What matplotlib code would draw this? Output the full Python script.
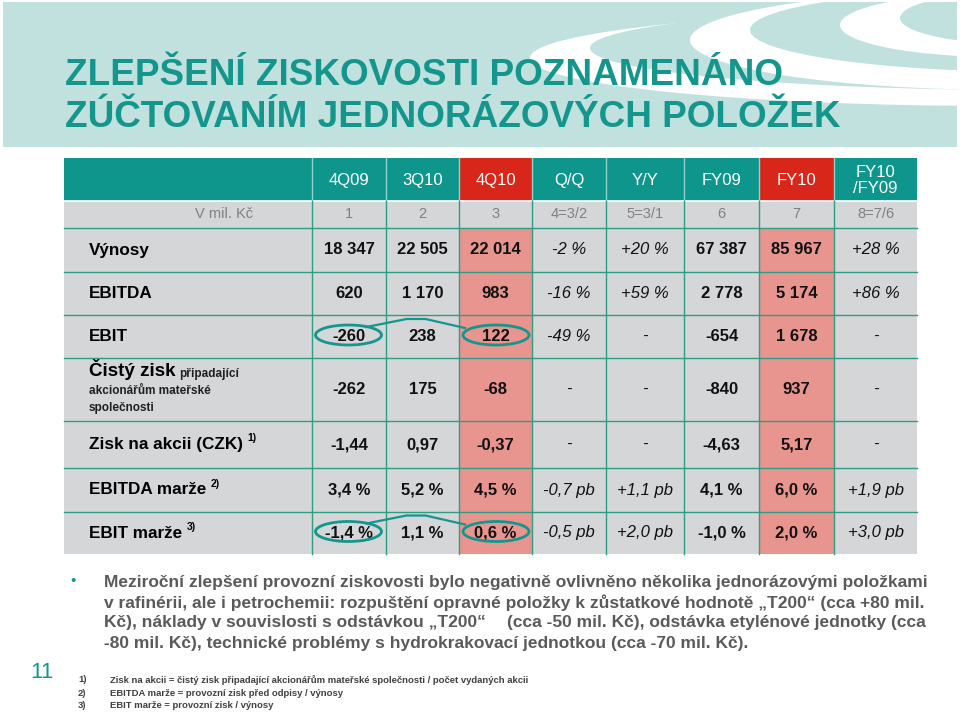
import matplotlib
matplotlib.use('Agg')
import matplotlib.pyplot as plt
from matplotlib.patches import Rectangle, Ellipse

plt.rcParams['font.family'] = ['Liberation Sans', 'DejaVu Sans']

# ---- content ----
title_lines = ['ZLEPŠENÍ ZISKOVOSTI POZNAMENÁNO', 'ZÚČTOVANÍM JEDNORÁZOVÝCH POLOŽEK']
columns = ['4Q09', '3Q10', '4Q10', 'Q/Q', 'Y/Y', 'FY09', 'FY10', 'FY10\n/FY09']
column_refs = ['1', '2', '3', '4=3/2', '5=3/1', '6', '7', '8=7/6']
unit_label = 'V mil. Kč'
row_labels = ['Výnosy', 'EBITDA', 'EBIT', 'Čistý zisk', 'Zisk na akcii (CZK)',
              'EBITDA marže', 'EBIT marže']
row_notes = ['', '', '', '', '1)', '2)', '3)']
net_profit_detail = ['připadající', 'akcionářům mateřské', 'společnosti']

vynosy = ['18 347', '22 505', '22 014', '-2 %', '+20 %', '67 387', '85 967', '+28 %']
ebitda = ['620', '1 170', '983', '-16 %', '+59 %', '2 778', '5 174', '+86 %']
ebit = ['-260', '238', '122', '-49 %', '-', '-654', '1 678', '-']
cisty_zisk = ['-262', '175', '-68', '-', '-', '-840', '937', '-']
eps = ['-1,44', '0,97', '-0,37', '-', '-', '-4,63', '5,17', '-']
ebitda_marze = ['3,4 %', '5,2 %', '4,5 %', '-0,7 pb', '+1,1 pb', '4,1 %', '6,0 %', '+1,9 pb']
ebit_marze = ['-1,4 %', '1,1 %', '0,6 %', '-0,5 pb', '+2,0 pb', '-1,0 %', '2,0 %', '+3,0 pb']
rows = [vynosy, ebitda, ebit, cisty_zisk, eps, ebitda_marze, ebit_marze]

highlight_cols = ['4Q10', 'FY10']
change_cols = ['Q/Q', 'Y/Y', 'FY10\n/FY09']
circled = [('EBIT', '4Q09', '4Q10'), ('EBIT marže', '4Q09', '4Q10')]

bullet_lines = [
    'Meziroční zlepšení provozní ziskovosti bylo negativně ovlivněno několika jednorázovými položkami',
    'v rafinérii, ale i petrochemii: rozpuštění opravné položky k zůstatkové hodnotě „T200“ (cca +80 mil.',
    ('Kč), náklady v souvislosti s odstávkou „T200“', '(cca -50 mil. Kč), odstávka etylénové jednotky (cca'),
    '-80 mil. Kč), technické problémy s hydrokrakovací jednotkou (cca -70 mil. Kč).',
]
footnotes = [
    ('1)', 'Zisk na akcii = čistý zisk připadající akcionářům mateřské společnosti / počet vydaných akcii'),
    ('2)', 'EBITDA marže = provozní zisk před odpisy / výnosy'),
    ('3)', 'EBIT marže = provozní zisk / výnosy'),
]
page_number = '11'

# ---- style ----
TEAL = '#0e968c'
TITLE = '#14968d'
RED = '#d9261a'
SALMON = '#e8948f'
GRAY = '#d5d6d8'
GRID = '#2f9c84'
BAND = '#c0e1dd'
TEXT_GRAY = '#5a5a5a'

col_edges = [64, 312, 386, 459, 532, 606, 684, 759, 834, 917]
row_edges = [158, 201, 228, 272, 315, 358, 421, 468, 512, 554]

fig = plt.figure(figsize=(9.6, 7.12), dpi=100)
ax = fig.add_axes([0, 0, 1, 1])
ax.set_xlim(0, 960)
ax.set_ylim(712, 0)
ax.axis('off')

# header band with swirls
band = Rectangle((3, 2), 954, 145, facecolor=BAND, edgecolor='none', zorder=0)
ax.add_patch(band)
swirls = [((1000, 58), 940, 96, 'white'), ((1030, 48), 880, 84, BAND),
          ((1010, 40), 640, 100, 'white'), ((1040, 30), 580, 84, BAND),
          ((1000, 25), 320, 64, 'white'), ((1030, 18), 260, 54, BAND)]
for center, w, h, c in swirls:
    e = Ellipse(center, w, h, facecolor=c, edgecolor='none', zorder=0.5)
    ax.add_patch(e)
    e.set_clip_path(band)

for i, line in enumerate(title_lines):
    ax.text(65, 85 + i * 42, line, fontsize=26.6, fontweight='bold', color=TITLE,
            ha='left', va='baseline', zorder=3)

# table cells
ncols = len(columns)
xc = [(col_edges[i + 1] + col_edges[i + 2]) / 2 for i in range(ncols)]
yc = [(row_edges[i] + row_edges[i + 1]) / 2 for i in range(len(row_edges) - 1)]

ax.add_patch(Rectangle((col_edges[0], row_edges[0]), col_edges[1] - col_edges[0],
                       row_edges[1] - row_edges[0], facecolor=TEAL, edgecolor='none'))
for j, name in enumerate(columns):
    x0, x1 = col_edges[j + 1], col_edges[j + 2]
    hl = name in highlight_cols
    ax.add_patch(Rectangle((x0, row_edges[0]), x1 - x0, row_edges[1] - row_edges[0],
                           facecolor=RED if hl else TEAL, edgecolor='none'))
    ax.add_patch(Rectangle((x0, row_edges[2]), x1 - x0, row_edges[-1] - row_edges[2],
                           facecolor=SALMON if hl else GRAY, edgecolor='none'))
    ax.text(xc[j], yc[0] + 1, name, color='white', fontsize=12, ha='center', va='center',
            linespacing=1.1, zorder=3)
ax.add_patch(Rectangle((col_edges[0], row_edges[1]), col_edges[-1] - col_edges[0],
                       row_edges[2] - row_edges[1], facecolor=GRAY, edgecolor='none'))
ax.add_patch(Rectangle((col_edges[0], row_edges[2]), col_edges[1] - col_edges[0],
                       row_edges[-1] - row_edges[2], facecolor=GRAY, edgecolor='none'))

# grid lines
ax.plot([col_edges[0], col_edges[-1]], [row_edges[1]] * 2, color='white', lw=1.2, zorder=2)
for y in row_edges[2:-1]:
    ax.plot([col_edges[0], col_edges[-1]], [y, y], color=GRID, lw=1.0, zorder=2)
for x in col_edges[1:-1]:
    ax.plot([x, x], [row_edges[0], row_edges[1]], color='#8fd2c9', lw=1.0, zorder=2)
    ax.plot([x, x], [row_edges[1], row_edges[-1]], color=GRID, lw=1.0, zorder=2)

# column reference row
ax.text(xc[0] - 125, yc[1], unit_label, color='#808080', fontsize=10.5,
        ha='center', va='center')
for j, ref in enumerate(column_refs):
    ax.text(xc[j], yc[1], ref, color='#808080', fontsize=10.5, ha='center', va='center')

# body rows
label_x = 89
for i, (label, note, vals) in enumerate(zip(row_labels, row_notes, rows)):
    y = yc[i + 2]
    if label == 'Čistý zisk':
        t = ax.text(label_x, y - 20, label, fontsize=13.5, fontweight='bold',
                    ha='left', va='center')
        ax.annotate(net_profit_detail[0], xy=(1, 0), xycoords=t, xytext=(3, 0),
                    textcoords='offset points', fontsize=8.5, fontweight='bold',
                    ha='left', va='bottom', color='#202020')
        for k, sub in enumerate(net_profit_detail[1:]):
            ax.text(label_x, y + 1.5 + k * 17, sub, fontsize=8.5, fontweight='bold',
                    ha='left', va='center', color='#202020')
    else:
        t = ax.text(label_x, y, label, fontsize=12.3, fontweight='bold',
                    ha='left', va='center')
        if note:
            ax.annotate(note, xy=(1, 0.5), xycoords=t, xytext=(3, 1),
                        textcoords='offset points', fontsize=7.5, fontweight='bold',
                        ha='left', va='bottom')
    for j, v in enumerate(vals):
        italic = columns[j] in change_cols
        ax.text(xc[j], y, v, fontsize=12, ha='center', va='center', color='#111111',
                fontweight='normal' if italic else 'bold',
                fontstyle='italic' if italic else 'normal', zorder=3)

# circled values with connector
for label, c1, c2 in circled:
    y = yc[row_labels.index(label) + 2] - 1.5
    xa = xc[columns.index(c1)] - 0.5
    xb = xc[columns.index(c2)] + 0.5
    for xx in (xa, xb):
        ax.add_patch(Ellipse((xx, y), 66, 20, fill=False, edgecolor=TITLE, lw=2, zorder=4))
    ax.plot([xa + 18, xa + 58, xa + 77, xb - 31], [y - 8, y - 16, y - 16, y - 7],
            color=TITLE, lw=1.6, zorder=4)

# bullet text
ax.text(70, 581, '•', color=TITLE, fontsize=11, ha='left', va='center')
for i, line in enumerate(bullet_lines):
    y = 582 + i * 20.5
    if isinstance(line, tuple):
        ax.text(104, y, line[0], fontsize=12.5, fontweight='bold', color=TEXT_GRAY,
                ha='left', va='center')
        ax.text(507, y, line[1], fontsize=12.5, fontweight='bold', color=TEXT_GRAY,
                ha='left', va='center')
    else:
        ax.text(104, y, line, fontsize=12.5, fontweight='bold', color=TEXT_GRAY,
                ha='left', va='center')

# footnotes and page number
for i, (num, txt) in enumerate(footnotes):
    y = 680 + i * 13
    ax.text(78, y, num, fontsize=6.8, fontweight='bold', color='#404040', ha='left', va='center')
    ax.text(110, y, txt, fontsize=6.8, fontweight='bold', color='#404040', ha='left', va='center')
ax.text(42, 673, page_number, fontsize=16, color=TITLE, ha='center', va='center')

fig.savefig('out.png', dpi=100, facecolor='white')
